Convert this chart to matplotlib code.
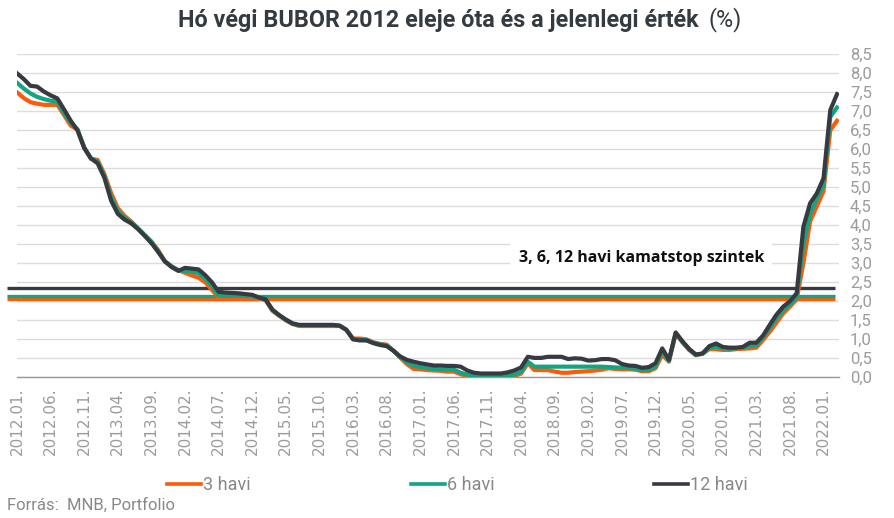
import matplotlib
matplotlib.use("Agg")
import matplotlib.pyplot as plt
from matplotlib.lines import Line2D
from matplotlib.ticker import FuncFormatter

# havi BUBOR, 2012.01 - 2022.03 (%)
bubor_3 = [7.50, 7.35, 7.24, 7.20, 7.17, 7.17, 7.17, 6.90, 6.62, 6.52,
           6.05, 5.75, 5.72, 5.35, 4.85, 4.45, 4.25, 4.10, 3.92, 3.75,
           3.57, 3.35, 3.05, 2.92, 2.82, 2.75, 2.68, 2.62, 2.50, 2.30,
           2.10, 2.10, 2.10, 2.10, 2.10, 2.10, 2.10, 2.02, 1.75, 1.62,
           1.50, 1.40, 1.35, 1.35, 1.35, 1.35, 1.35, 1.35, 1.35, 1.25,
           1.02, 1.02, 1.00, 0.92, 0.88, 0.86, 0.70, 0.52, 0.35, 0.22,
           0.21, 0.19, 0.18, 0.17, 0.15, 0.15, 0.08, 0.04, 0.03, 0.02,
           0.02, 0.02, 0.02, 0.02, 0.03, 0.10, 0.37, 0.19, 0.19, 0.19,
           0.15, 0.12, 0.12, 0.14, 0.15, 0.16, 0.18, 0.20, 0.24, 0.22,
           0.21, 0.21, 0.20, 0.16, 0.16, 0.24, 0.59, 0.41, 1.15, 0.92,
           0.72, 0.58, 0.62, 0.74, 0.74, 0.72, 0.72, 0.74, 0.75, 0.76,
           0.78, 0.98, 1.20, 1.44, 1.68, 1.86, 2.05, 3.00, 4.10, 4.50,
           4.90, 6.50, 6.75]
bubor_6 = [7.75, 7.60, 7.47, 7.38, 7.32, 7.28, 7.26, 6.95, 6.70, 6.52,
           6.05, 5.76, 5.68, 5.30, 4.75, 4.38, 4.20, 4.08, 3.92, 3.74,
           3.57, 3.32, 3.05, 2.92, 2.82, 2.80, 2.78, 2.74, 2.60, 2.40,
           2.15, 2.14, 2.14, 2.14, 2.14, 2.13, 2.10, 2.04, 1.77, 1.63,
           1.51, 1.41, 1.36, 1.36, 1.36, 1.36, 1.36, 1.36, 1.36, 1.25,
           1.00, 1.00, 0.98, 0.91, 0.87, 0.84, 0.70, 0.53, 0.40, 0.30,
           0.27, 0.24, 0.22, 0.21, 0.20, 0.20, 0.12, 0.07, 0.05, 0.05,
           0.05, 0.05, 0.05, 0.05, 0.07, 0.14, 0.41, 0.28, 0.28, 0.28,
           0.28, 0.28, 0.28, 0.28, 0.28, 0.28, 0.28, 0.28, 0.27, 0.26,
           0.25, 0.24, 0.23, 0.19, 0.19, 0.28, 0.68, 0.43, 1.16, 0.93,
           0.73, 0.59, 0.62, 0.78, 0.80, 0.76, 0.75, 0.76, 0.78, 0.82,
           0.84, 1.05, 1.30, 1.55, 1.76, 1.92, 2.10, 3.50, 4.30, 4.70,
           5.05, 6.85, 7.10]
bubor_12 = [8.00, 7.85, 7.67, 7.65, 7.52, 7.42, 7.34, 7.05, 6.75, 6.50,
            6.03, 5.76, 5.63, 5.25, 4.65, 4.30, 4.15, 4.05, 3.90, 3.72,
            3.53, 3.30, 3.05, 2.90, 2.80, 2.88, 2.86, 2.84, 2.69, 2.50,
            2.25, 2.23, 2.22, 2.21, 2.19, 2.17, 2.10, 2.05, 1.78, 1.64,
            1.52, 1.42, 1.38, 1.38, 1.38, 1.38, 1.38, 1.38, 1.36, 1.25,
            1.00, 0.97, 0.97, 0.90, 0.85, 0.82, 0.70, 0.55, 0.46, 0.41,
            0.37, 0.34, 0.31, 0.31, 0.30, 0.30, 0.28, 0.18, 0.12, 0.10,
            0.10, 0.10, 0.10, 0.13, 0.18, 0.26, 0.54, 0.51, 0.51, 0.54,
            0.54, 0.54, 0.48, 0.50, 0.49, 0.44, 0.45, 0.48, 0.48, 0.45,
            0.35, 0.31, 0.30, 0.25, 0.27, 0.37, 0.76, 0.46, 1.18, 0.95,
            0.75, 0.60, 0.63, 0.82, 0.89, 0.80, 0.78, 0.78, 0.80, 0.91,
            0.91, 1.10, 1.38, 1.65, 1.86, 2.00, 2.21, 3.96, 4.58, 4.84,
            5.24, 7.03, 7.45]

# kamatstop szintek: 3, 6, 12 havi
kamatstop = [2.05, 2.15, 2.34]

tick_labels = ["2012.01.", "2012.06.", "2012.11.", "2013.04.", "2013.09.",
               "2014.02.", "2014.07.", "2014.12.", "2015.05.", "2015.10.",
               "2016.03.", "2016.08.", "2017.01.", "2017.06.", "2017.11.",
               "2018.04.", "2018.09.", "2019.02.", "2019.07.", "2019.12.",
               "2020.05.", "2020.10.", "2021.03.", "2021.08.", "2022.01."]
series_names = ["3 havi", "6 havi", "12 havi"]

colors = ["#ff5a0a", "#11a584", "#373a40"]
grey = "#9b9b9b"

months = list(range(len(bubor_3)))

fig = plt.figure(figsize=(8.94, 5.18), dpi=100)
ax = fig.add_axes([17/894, 1 - 377.3/518, (839 - 17)/894, (377.3 - 54.3)/518])

# kamatstop vonalak
for lvl, c in zip(kamatstop, colors):
    ax.hlines(lvl, -1.5, 121.7, colors=c, lw=2.4, clip_on=False, zorder=2)

for vals, c in zip([bubor_3, bubor_6, bubor_12], colors):
    ax.plot(months, vals, color=c, lw=3.0, solid_joinstyle="round", zorder=3)

ax.set_xlim(0, len(months) - 0.7)
ax.set_ylim(0, 8.5)
ax.set_yticks([i * 0.5 for i in range(18)])
ax.yaxis.set_major_formatter(FuncFormatter(lambda v, p: f"{v:.1f}".replace(".", ",")))
ax.yaxis.tick_right()
ax.tick_params(axis="y", length=0, pad=8, labelsize=12, labelcolor=grey)
ax.set_xticks(months[::5])
ax.set_xticklabels(tick_labels, rotation=90, fontsize=11, color=grey,
                   fontfamily="DejaVu Sans")
ax.tick_params(axis="x", length=0, pad=7)
for lab in ax.get_yticklabels():
    lab.set_fontfamily("Roboto")

ax.grid(axis="y", color="#dcdcdc", lw=1.0, zorder=0)
for s in ["top", "right", "left"]:
    ax.spines[s].set_visible(False)
ax.spines["bottom"].set_color("#999999")
ax.spines["bottom"].set_linewidth(1.0)

ax.text(92.9, 3.13, "3, 6, 12 havi kamatstop szintek", ha="center", va="center",
        fontsize=11.5, fontweight="bold", fontfamily="Open Sans", color="#111111",
        bbox=dict(facecolor="white", edgecolor="none", pad=6), zorder=4)

fig.text(178/894, 1 - 20/518, "Hó végi BUBOR 2012 eleje óta és a jelenlegi érték",
         ha="left", va="center", fontsize=16.8, fontweight="bold",
         fontfamily="Roboto", color="#333a40")
fig.text(708/894, 1 - 20/518, "(%)", ha="left", va="center", fontsize=16.8,
         fontfamily="Roboto", color="#333a40")

handles = [Line2D([], [], color=c, lw=2.6) for c in colors]
fig.legend(handles, series_names, loc="center left", ncol=3,
           bbox_to_anchor=(167/894, 1 - 485/518), frameon=False,
           prop={"family": "Roboto", "size": 13}, labelcolor="#888888",
           handlelength=1.9, handletextpad=0.1, columnspacing=8.85,
           borderpad=0, borderaxespad=0)

fig.text(7/894, 1 - 505/518, "Forrás:  MNB, Portfolio", ha="left", va="center",
         fontsize=12, fontfamily="Roboto", color="#888888")

fig.savefig("out.png", dpi=100)
